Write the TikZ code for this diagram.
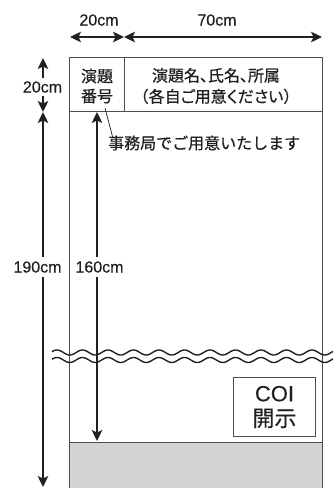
\documentclass[tikz,border=0pt]{standalone}
\usepackage{fontspec}
\setmainfont{Noto Sans CJK JP}[FakeBold=0.6]
\newfontfamily\jpprop{Noto Sans CJK JP}[FakeBold=0.6,RawFeature=+palt]
\newfontfamily\latin{Liberation Sans}[FakeBold=0.4]
\usetikzlibrary{arrows.meta}
\definecolor{ink}{HTML}{231F20}
\definecolor{rule}{HTML}{4D4D4F}
\definecolor{bandgray}{HTML}{D1D3D4}
\begin{document}
\begin{tikzpicture}[x=1bp,y=-1bp,
  txt/.style={font=\fontsize{16bp}{20bp}\selectfont, text=ink, inner sep=0pt, align=center},
  num/.style={font=\latin\fontsize{16bp}{20bp}\selectfont, text=ink, inner sep=0pt},
  dimline/.style={draw=ink, line width=1.9bp, -{Stealth[length=11bp,width=10.5bp,inset=2.5bp]}},
  dimboth/.style={draw=ink, line width=1.9bp, {Stealth[length=11bp,width=10.5bp,inset=2.5bp]}-{Stealth[length=11bp,width=10.5bp,inset=2.5bp]}},
  frame/.style={draw=rule, line width=1bp},
  wave/.style={draw=ink, line width=1.4bp},
  leader/.style={draw=ink, line width=0.7bp}]
\useasboundingbox (0,0) rectangle (333,488);
% gray bottom band and frame
\fill[bandgray] (69,442) rectangle (322,488);
\draw[frame] (69,488) -- (69,58) -- (322,58) -- (322,488);
\draw[frame] (69,112) -- (322,112);
\draw[frame] (124,58) -- (124,112);
\draw[frame] (69,442) -- (322,442);
% header texts
\node[txt] (num) at (97,86) {演題\\番号};
\node[txt, font=\jpprop\fontsize{16bp}{21bp}\selectfont] (title) at (216,86) {演題名、氏名、所属\\{\normalfont （}各自ご用意ください{\normalfont ）}};
% top dimensions
\coordinate (h1) at (70,37);
\coordinate (h2) at (124,37);
\coordinate (h3) at (322,37);
\node[num] (w20) at (99,20) {20cm};
\node[num] (w70) at (217,20) {70cm};
\draw[dimboth] (h1) -- (h2);
\draw[dimboth] (h2) -- (h3);
% left vertical dimensions
\coordinate (v20t) at (43,58);
\coordinate (v20b) at (43,112);
\node[num] (l20) at (42.5,87) {20cm};
\draw[dimline] (l20.north -| v20t) ++(0,-3) -- (v20t);
\draw[dimline] (l20.south -| v20b) ++(0,3) -- (v20b);
\coordinate (v190t) at (43,112);
\coordinate (v190b) at (43,487);
\node[num] (l190) at (37.5,267) {190cm};
\draw[dimline] (l190.north -| v190t) ++(0,-4) -- (v190t);
\draw[dimline] (l190.south -| v190b) ++(0,4) -- (v190b);
\coordinate (v160t) at (97,112);
\coordinate (v160b) at (97,441);
\node[num] (l160) at (99.5,267) {160cm};
\draw[dimline] (l160.north -| v160t) ++(0,-4) -- (v160t);
\draw[dimline] (l160.south -| v160b) ++(0,4) -- (v160b);
% leader
\coordinate (lead) at (105,108);
\node[txt, anchor=west] (jimu) at (108,143) {事務局でご用意いたします};
\draw[leader] (lead) -- ([xshift=5bp,yshift=-3bp]jimu.north west);
% waves
\draw[wave] plot[domain=52:333, samples=300, smooth] (\x, {352.5 - 2.5*cos((\x-57)/25.5*360)});
\draw[wave] plot[domain=52:333, samples=300, smooth] (\x, {360 - 2.5*cos((\x-57)/25.5*360)});
% COI box
\node[draw=rule, line width=1bp, minimum width=82bp, minimum height=59bp, inner sep=0pt] (coi) at (274.5,407) {};
\node[text=ink, inner sep=0pt, align=center, font=\fontsize{22bp}{25bp}\selectfont] (coitext) at (coi.center) {{\latin COI}\\開示};
\end{tikzpicture}
\end{document}
